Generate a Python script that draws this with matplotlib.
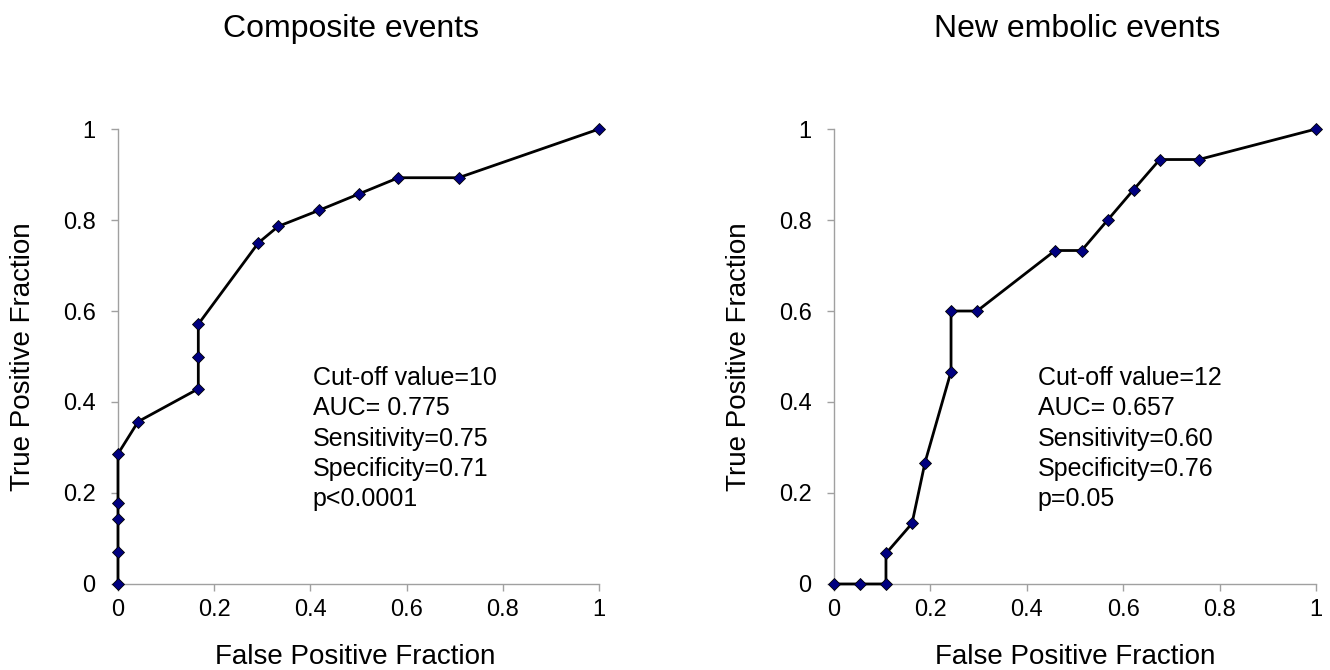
import matplotlib.pyplot as plt

plt.rcParams['font.family'] = ['Liberation Sans', 'DejaVu Sans']

# Composite events ROC
composite_fpf = [0, 0, 0, 0, 0, 0.042, 0.167, 0.167, 0.167, 0.292, 0.333, 0.417, 0.5, 0.583, 0.708, 1.0]
composite_tpf = [0, 0.071, 0.143, 0.179, 0.286, 0.357, 0.429, 0.5, 0.571, 0.75, 0.786, 0.821, 0.857, 0.893, 0.893, 1.0]

# New embolic events ROC
embolic_fpf = [0, 0.054, 0.108, 0.108, 0.162, 0.189, 0.243, 0.243, 0.297, 0.459, 0.514, 0.568, 0.622, 0.676, 0.757, 1.0]
embolic_tpf = [0, 0, 0, 0.067, 0.133, 0.267, 0.467, 0.6, 0.6, 0.733, 0.733, 0.8, 0.867, 0.933, 0.933, 1.0]

titles = ['Composite events', 'New embolic events']
notes = [
    'Cut-off value=10\nAUC= 0.775\nSensitivity=0.75\nSpecificity=0.71\np<0.0001',
    'Cut-off value=12\nAUC= 0.657\nSensitivity=0.60\nSpecificity=0.76\np=0.05',
]
ticks = [0, 0.2, 0.4, 0.6, 0.8, 1]
tick_labels = ['0', '0.2', '0.4', '0.6', '0.8', '1']

fig = plt.figure(figsize=(13.3, 6.7), dpi=100)
ax1 = fig.add_axes([0.0887, 0.1284, 0.3617, 0.679])
ax2 = fig.add_axes([0.627, 0.1284, 0.3624, 0.679])

series = [(composite_fpf, composite_tpf), (embolic_fpf, embolic_tpf)]
note_x = [0.405, 0.423]
for ax, (x, y), note, nx in zip([ax1, ax2], series, notes, note_x):
    ax.plot(x, y, color='black', lw=2, marker='D', ms=6,
            markerfacecolor='#000080', markeredgecolor='black', markeredgewidth=0.6,
            clip_on=False, zorder=3)
    ax.set_xlim(0, 1)
    ax.set_ylim(0, 1)
    ax.set_xticks(ticks)
    ax.set_xticklabels(tick_labels)
    ax.set_yticks(ticks)
    ax.set_yticklabels(tick_labels)
    for side in ['top', 'right']:
        ax.spines[side].set_visible(False)
    for side in ['left', 'bottom']:
        ax.spines[side].set_color('#a0a0a0')
        ax.spines[side].set_linewidth(1)
    ax.tick_params(direction='out', length=5, width=1, color='#a0a0a0', labelsize=17)
    ax.tick_params(axis='x', pad=6)
    ax.tick_params(axis='y', pad=11)
    ax.text(nx, 0.479, note, transform=ax.transAxes, fontsize=18,
            va='top', ha='left', linespacing=1.33)

fig.text(351 / 1330, 1 - 37 / 670, titles[0], ha='center', va='baseline', fontsize=23)
fig.text(1077 / 1330, 1 - 37 / 670, titles[1], ha='center', va='baseline', fontsize=23)
fig.text(355 / 1330, 1 - 664 / 670, 'False Positive Fraction', ha='center', va='baseline', fontsize=20)
fig.text(1075 / 1330, 1 - 664.5 / 670, 'False Positive Fraction', ha='center', va='baseline', fontsize=20)
fig.text(0.017, 0.468, 'True Positive Fraction', ha='center', va='center', fontsize=20, rotation=90)
fig.text(0.556, 0.468, 'True Positive Fraction', ha='center', va='center', fontsize=20, rotation=90)

fig.savefig('out.png', dpi=100)
